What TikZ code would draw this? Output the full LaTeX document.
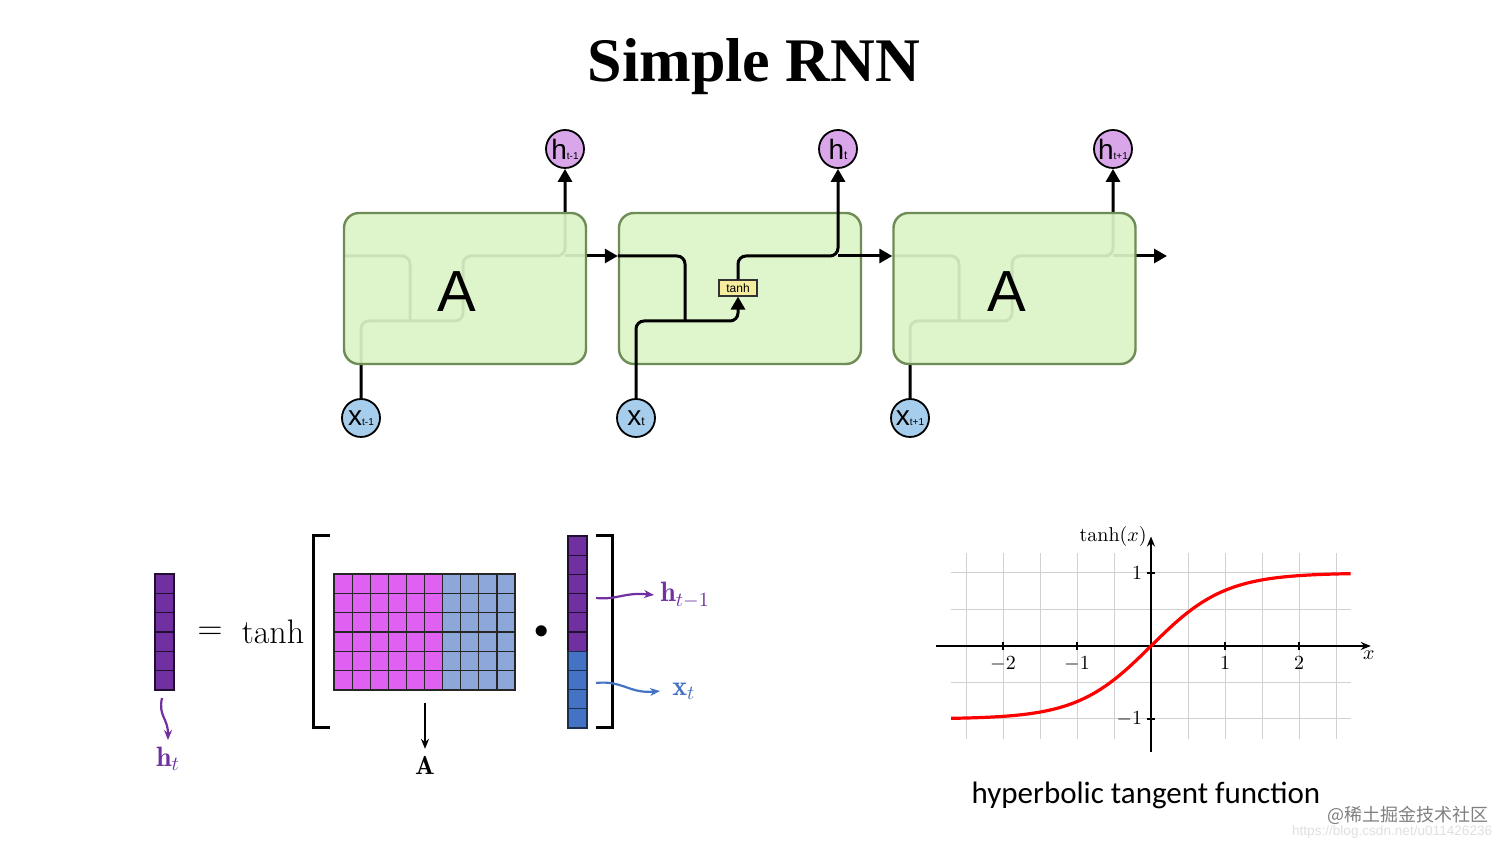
\documentclass[tikz,border=0pt]{standalone}
\usepackage{fontspec}
\usetikzlibrary{arrows.meta,backgrounds}
\newfontfamily\arialf{Liberation Sans}
\newfontfamily\serifb{Liberation Serif}
\newfontfamily\carl{Carlito}
\newfontfamily\cjk{Noto Sans CJK SC}
\definecolor{boxfill}{HTML}{DCF4C6}
\definecolor{boxline}{HTML}{6E8C55}
\definecolor{hpink}{HTML}{D9A6EA}
\definecolor{xblue}{HTML}{A6CDEB}
\definecolor{tanhy}{HTML}{F6EC9E}
\definecolor{vpurple}{HTML}{7030A0}
\definecolor{vblue}{HTML}{4472C4}
\definecolor{mpink}{HTML}{E060F2}
\definecolor{mblue}{HTML}{8EA7DA}
\pgfdeclarelayer{bottom}
\pgfsetlayers{bottom,background,main}
\tikzset{
  cellbox/.style={draw=boxline, line width=1.2pt, rounded corners=7.5pt, minimum width=121pt, minimum height=75.5pt, inner sep=0pt},
  hcirc/.style={circle, draw=black, line width=0.9pt, fill=hpink, minimum size=19pt, inner sep=0pt, font=\arialf},
  xcirc/.style={circle, draw=black, line width=0.9pt, fill=xblue, minimum size=19pt, inner sep=0pt, font=\arialf},
  flow/.style={line width=1.5pt, rounded corners=4pt},
  flowar/.style={flow, -{Triangle[length=6.5pt,width=7pt]}},
  Aletter/.style={font=\arialf\fontsize{29}{30}\selectfont},
  wav/.style={line width=1.1pt, -{Stealth[length=5pt,width=4pt]}},
}
\begin{document}
\begin{tikzpicture}[x=0.5pt,y=-0.5pt]
\useasboundingbox (0,0) rectangle (1512,849);
\begin{pgfonlayer}{bottom}
\fill[white] (0,0) rectangle (1512,849);
\end{pgfonlayer}
% title
\node (title) at (754,67) {\serifb\bfseries\fontsize{31}{36}\selectfont Simple RNN};
% boxes
\node[cellbox, fill=boxfill, fill opacity=0.92, text opacity=1] (A1) at (465,288.5) {};
\node[cellbox, fill=boxfill!92!white] (A2) at (740,288.5) {};
\node[cellbox, fill=boxfill, fill opacity=0.92, text opacity=1] (A3) at (1014.5,288.5) {};
\node[Aletter] (L1) at (457,292) {A};
\node[Aletter] (L3) at (1007,292) {A};
% circles
\node[hcirc] (h1) at (565,149) {\fontsize{14}{14}\selectfont h\fontsize{5}{5}\selectfont t-1};
\node[hcirc] (h2) at (838,149) {\fontsize{14}{14}\selectfont h\fontsize{6}{6}\selectfont t};
\node[hcirc] (h3) at (1113,149) {\fontsize{14}{14}\selectfont h\fontsize{5}{5}\selectfont t+1};
\node[xcirc] (x1) at (361,418) {\fontsize{14}{14}\selectfont x\fontsize{5}{5}\selectfont t-1};
\node[xcirc] (x2) at (636,418) {\fontsize{14}{14}\selectfont x\fontsize{6}{6}\selectfont t};
\node[xcirc] (x3) at (910,418) {\fontsize{14}{14}\selectfont x\fontsize{5}{5}\selectfont t+1};
\node[draw=black!80, line width=0.6pt, fill=tanhy, minimum width=19pt, minimum height=8pt, inner sep=0pt, font=\arialf\fontsize{6}{6}\selectfont] (T2) at (738,288) {tanh};
\coordinate (out3) at (1167,256);
% hidden flows in boxes 1 and 3
\begin{pgfonlayer}{background}
\draw[flow] (344,256) -- (410,256) -- (410,321);
\draw[flow] (x1.north) -- (361,321) -- (463,321) -- (463,296);
\draw[flowar] (463,280) -- (463,256) -- (565,256) -- (h1.south);
\draw[flowar] (565,256) -- (A2.west |- 0,256);
\draw[flow] (893,256) -- (959,256) -- (959,321);
\draw[flow] (x3.north) -- (910,321) -- (1012,321) -- (1012,296);
\draw[flowar] (1012,280) -- (1012,256) -- (1113,256) -- (h3.south);
\draw[flowar] (1113,256) -- (out3);
\end{pgfonlayer}
% visible flows in box 2
\draw[flow] (A2.west |- 0,256) -- (685,256) -- (685,321);
\draw[flowar] (x2.north) -- (636,321) -- (738,321) -- (T2.south);
\draw[flowar] (T2.north) -- (738,256) -- (838,256) -- (h2.south);
\draw[flowar] (838,256) -- (A3.west |- 0,256);
% ---------- equation ----------
\foreach \i in {0,...,5} \draw[fill=vpurple, draw=black!70!vpurple, line width=0.6pt] (155,574+\i*19.33) rectangle ++(19,19.33);
\node (eq) at (210,633) {\fontsize{17}{17}\selectfont$=$};
\node (tanhw) at (273,632) {\fontsize{17}{17}\selectfont tanh};
\draw[line width=1.5pt] (330,536) -- (313,536) -- (313,728) -- (330,728);
\foreach \c in {0,...,9} \foreach \r in {0,...,5} {
  \pgfmathsetmacro{\cc}{\c<6 ? 1 : 0}
  \ifdim\cc pt>0.5pt
    \draw[fill=mpink, draw=black!85, line width=0.6pt] (334+\c*18.1,574+\r*19.33) rectangle ++(18.1,19.33);
  \else
    \draw[fill=mblue, draw=black!85, line width=0.6pt] (334+\c*18.1,574+\r*19.33) rectangle ++(18.1,19.33);
  \fi
}
\coordinate (Atop) at (425,703);
\node (Alab) at (425,765) {\fontsize{13}{13}\selectfont$\mathbf{A}$};
\draw[line width=1pt, -{Stealth[length=5pt,width=4pt]}] (Atop) -- (Alab.north);
\node (dot) at (542,632) {\fontsize{14}{14}\selectfont$\bullet$};
\foreach \i in {0,...,5} \draw[fill=vpurple, draw=black!70!vpurple, line width=0.6pt] (568,536+\i*19.2) rectangle ++(19,19.2);
\foreach \i in {6,...,9} \draw[fill=vblue, draw=black!60!vblue, line width=0.6pt] (568,536+\i*19.2) rectangle ++(19,19.2);
\draw[line width=1.5pt] (596,536) -- (612,536) -- (612,728) -- (596,728);
\node[text=vpurple, anchor=west, inner sep=1pt] (hprev) at (658,595) {\fontsize{14}{14}\selectfont$\mathbf{h}_{t-1}$};
\node[text=vblue, anchor=west, inner sep=1pt] (xt) at (670,691) {\fontsize{14}{14}\selectfont$\mathbf{x}_{t}$};
\node[text=vpurple] (hlab) at (168,759) {\fontsize{14}{14}\selectfont$\mathbf{h}_{t}$};
\coordinate (hs1) at (596,598);
\coordinate (xs1) at (596,683);
\coordinate (ht0) at (162,698);
\draw[wav, vpurple] (hs1) .. controls (618,600) and (624,592) .. ([xshift=-2pt]hprev.west);
\draw[wav, vblue] (xs1) .. controls (622,680) and (630,694) .. ([xshift=-5pt]xt.west);
\draw[wav, vpurple] (ht0) .. controls (158,716) and (168,718) .. (hlab.north);
% ---------- graph ----------
\begin{scope}[shift={(1151,646)}, x=37pt, y=36.5pt]
\draw[black!18, line width=0.5pt] (-2.7,-1.27) grid[step=0.5] (2.7,1.27);
\draw[line width=0.8pt, -{Stealth[length=5pt,width=4pt]}] (-2.9,0) -- (2.97,0) coordinate (xend);
\draw[line width=0.8pt, -{Stealth[length=5pt,width=4pt]}] (0,-1.45) -- (0,1.5) coordinate (yend);
\foreach \t in {-2,-1,1,2} {
  \draw[line width=0.6pt] (\t,-0.06) -- (\t,0.06);
  \node[anchor=north, inner sep=3pt] (xl\t) at (\t,-0.06) {\fontsize{10}{10}\selectfont$\t$};
}
\foreach \t in {-1,1} {
  \draw[line width=0.6pt] (-0.06,\t) -- (0.06,\t);
  \node[anchor=east, inner sep=2pt] (yl\t) at (-0.06,\t) {\fontsize{10}{10}\selectfont$\t$};
}
\node[anchor=east, inner sep=2pt] (ylab) at (yend) {\fontsize{10}{10}\selectfont$\tanh(x)$};
\node[anchor=north, inner sep=2pt] (xlab) at ([xshift=-1pt]xend) {\fontsize{10}{10}\selectfont$x$};
\draw[red, line width=1.6pt] plot[domain=-2.7:2.7, samples=120, smooth] (\x,{tanh(\x)});
\end{scope}
\node (cap) at (1146,795) {\carl\fontsize{15.5}{16}\selectfont hyperbolic tangent function};
\node[text=black!50] (wm1) at (1408,815) {\cjk\fontsize{9}{9}\selectfont @稀土掘金技术社区};
\node[text=black!12, anchor=west] (wm2) at (1285,832) {\arialf\fontsize{6.8}{7}\selectfont https://blog.csdn.net/u011426236};
\end{tikzpicture}
\end{document}
